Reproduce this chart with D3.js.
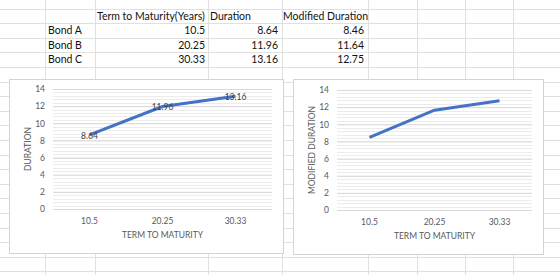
<!DOCTYPE html>
<html>
<head>
<meta charset="utf-8">
<script src="https://cdn.jsdelivr.net/npm/d3@7"></script>
<style>
  body { margin: 0; background: #fff; }
  svg { display: block; }
</style>
</head>
<body>
<div id="plot_area"></div>
<script>
// data
var bonds = ["Bond A", "Bond B", "Bond C"]
var terms = ["10.5", "20.25", "30.33"]
var duration = [8.64, 11.96, 13.16]
var modDuration = [8.46, 11.64, 12.75]
var headers = ["Term to Maturity(Years)", "Duration", "Modified Duration"]
var yTicks = [0, 2, 4, 6, 8, 10, 12, 14]

var width = 560, height = 275
var Svg = d3.select("#plot_area").append("svg")
  .attr("width", width)
  .attr("height", height)

// spreadsheet grid behind everything
var colLines = [45, 95, 208, 281.5, 368, 417, 465, 513]
var rowLines = d3.range(0, 19).map(function(k) { return 8.5 + 14.6 * k })

var grid = Svg.append("g")
grid.selectAll(".row").data(rowLines).enter().append("line")
  .attr("x1", 0).attr("x2", width)
  .attr("y1", function(d) { return Math.round(d) + 0.5 })
  .attr("y2", function(d) { return Math.round(d) + 0.5 })
  .attr("stroke", "#e0e0e0")
grid.selectAll(".col").data(colLines).enter().append("line")
  .attr("y1", 0).attr("y2", height)
  .attr("x1", function(d) { return Math.round(d) + 0.5 })
  .attr("x2", function(d) { return Math.round(d) + 0.5 })
  .attr("stroke", "#e0e0e0")

// table cells
var cellFont = "Lato, 'Open Sans', sans-serif"
var rowY = function(i) { return 16 + 14.6 * i }
var tbl = Svg.append("g").style("font-family", cellFont).style("font-size", "10.5px").attr("fill", "#111")

var headX = [97, 210, 283]
headers.forEach(function(h, i) {
  tbl.append("text").attr("x", headX[i]).attr("y", rowY(0)).attr("dy", "0.35em").text(h)
})
bonds.forEach(function(b, i) {
  tbl.append("text").attr("x", 48).attr("y", rowY(i + 1)).attr("dy", "0.35em").text(b)
  tbl.append("text").attr("x", 205).attr("y", rowY(i + 1)).attr("dy", "0.35em")
    .attr("text-anchor", "end").text(terms[i])
  tbl.append("text").attr("x", 278).attr("y", rowY(i + 1)).attr("dy", "0.35em")
    .attr("text-anchor", "end").text(duration[i])
  tbl.append("text").attr("x", 364).attr("y", rowY(i + 1)).attr("dy", "0.35em")
    .attr("text-anchor", "end").text(modDuration[i])
})

function drawChart(o) {
  var c = Svg.append("g").style("font-family", cellFont)

  c.append("rect")
    .attr("x", o.box[0] + 0.5).attr("y", o.box[1] + 0.5)
    .attr("width", o.box[2] - o.box[0]).attr("height", o.box[3] - o.box[1])
    .attr("fill", "#fff").attr("stroke", "#d4d4d4")

  var x = d3.scaleBand().domain(terms).range([o.left, o.right])
  var y = d3.scaleLinear().domain([0, 14]).range([o.bottom, o.top])

  // minor gridlines
  c.append("g").selectAll("line").data(d3.range(0, 14.01, 0.4)).enter().append("line")
    .attr("x1", o.left).attr("x2", o.right)
    .attr("y1", function(d) { return Math.round(y(d)) + 0.5 })
    .attr("y2", function(d) { return Math.round(y(d)) + 0.5 })
    .attr("stroke", "#ececec")

  // major gridlines + labels
  c.append("g")
    .attr("transform", "translate(" + o.left + ",0)")
    .call(d3.axisLeft(y).tickValues(yTicks).tickSize(-(o.right - o.left)).tickPadding(8))
    .call(function(g) { g.select(".domain").remove() })
    .call(function(g) {
      g.selectAll(".tick line").attr("stroke", "#d9d9d9")
      g.selectAll(".tick text").attr("fill", "#595959").style("font-size", "8.5px").style("font-family", cellFont)
    })

  // category axis labels
  c.append("g")
    .attr("transform", "translate(0," + o.bottom + ")")
    .call(d3.axisBottom(x).tickSize(0).tickPadding(9))
    .call(function(g) { g.select(".domain").remove() })
    .call(function(g) {
      g.selectAll(".tick text").attr("fill", "#595959").style("font-size", "8.5px").style("font-family", cellFont)
    })

  c.append("text")
    .attr("x", (o.left + o.right) / 2).attr("y", o.bottom + 26).attr("dy", "0.35em")
    .attr("text-anchor", "middle").attr("fill", "#595959").style("font-size", "8.5px")
    .text("TERM TO MATURITY")

  c.append("text")
    .attr("transform", "translate(" + o.ytitleX + "," + ((o.top + o.bottom) / 2) + ")rotate(-90)")
    .attr("dy", "0.35em")
    .attr("text-anchor", "middle").attr("fill", "#595959").style("font-size", "8.5px")
    .text(o.ytitle)

  var line = d3.line()
    .x(function(d, i) { return x(terms[i]) + x.bandwidth() / 2 })
    .y(function(d) { return y(d) })

  c.append("path").datum(o.values)
    .attr("d", line)
    .attr("fill", "none").attr("stroke", "#4472c4")
    .attr("stroke-width", 3).attr("stroke-linejoin", "round")

  if (o.labels) {
    c.append("g").selectAll("text").data(o.values).enter().append("text")
      .attr("x", function(d, i) { return x(terms[i]) + x.bandwidth() / 2 })
      .attr("y", function(d) { return y(d) + 1 })
      .attr("dy", "0.35em")
      .attr("text-anchor", "middle").attr("fill", "#404040").style("font-size", "8.5px")
      .text(function(d) { return d })
  }
}

drawChart({ box: [9, 79, 283, 253], left: 53, right: 272, top: 89, bottom: 209,
  ytitleX: 28, ytitle: "DURATION", values: duration, labels: true })
drawChart({ box: [293, 79, 543, 254], left: 337, right: 532, top: 90, bottom: 210,
  ytitleX: 312, ytitle: "MODIFIED DURATION", values: modDuration, labels: false })
</script>
</body>
</html>
